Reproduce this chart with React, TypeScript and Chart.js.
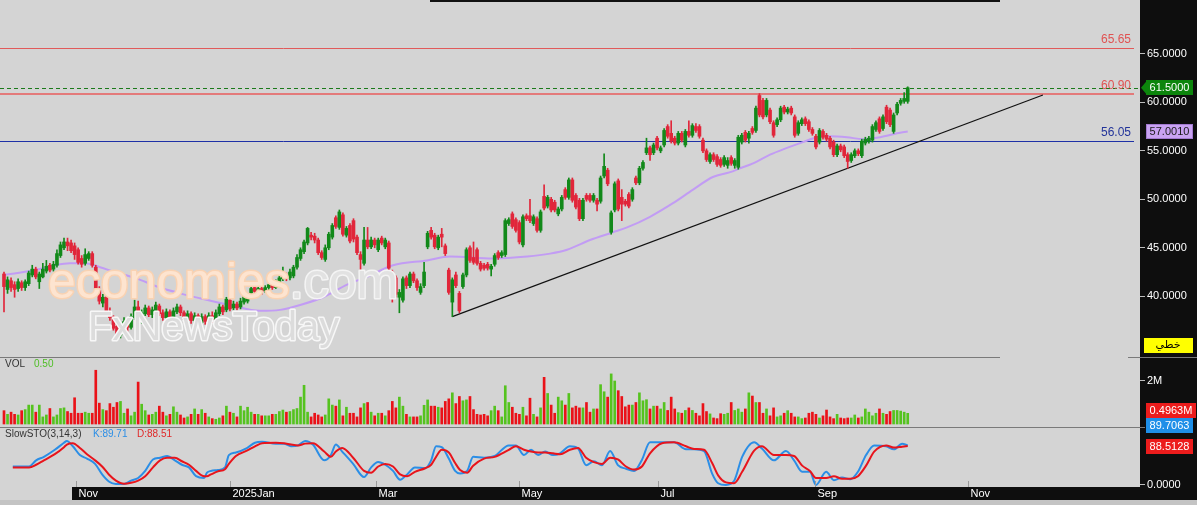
import React, { useEffect, useRef } from 'react';
import { Chart, registerables } from 'chart.js';

Chart.register(...registerables);

// ---------- DATA ----------
const opens = [
  42.3,40.7,41.6,41.2,40.8,41.4,40.9,41.3,42.2,42.8,
  41.5,42.0,42.6,43.2,42.8,43.2,44.2,45.0,45.6,45.5,
  45.2,44.8,43.9,43.4,43.9,44.4,43.0,40.6,39.3,39.9,
  38.4,37.8,36.9,36.0,36.8,37.4,36.8,37.8,38.9,37.4,
  38.2,38.8,38.1,38.5,39.0,38.3,37.8,38.4,37.9,38.4,
  38.9,38.3,37.6,38.2,37.5,38.0,37.3,37.9,37.4,38.0,
  37.6,38.2,38.9,38.6,39.6,38.8,39.2,38.9,39.4,39.5,
  40.0,40.9,40.5,40.8,40.6,40.9,41.2,40.9,41.5,41.8,
  42.2,41.9,42.1,43.0,43.9,44.6,45.5,46.3,46.2,45.8,
  44.5,43.8,45.0,46.1,48.1,47.1,48.4,46.3,47.3,47.8,
  46.1,44.3,43.4,45.8,45.1,45.8,44.8,46.0,45.1,45.5,
  42.5,41.9,39.9,39.6,41.9,41.1,42.3,41.6,40.4,41.1,
  45.1,46.8,46.3,45.0,46.4,45.2,42.7,39.4,42.2,40.3,
  41.0,42.2,45.0,44.0,44.8,43.4,43.2,43.3,42.8,43.3,
  44.5,44.2,44.3,47.5,48.5,47.9,47.6,45.3,48.3,48.3,
  47.5,48.0,46.8,50.3,49.3,50.0,49.7,48.5,49.0,51.0,
  50.2,52.0,50.4,49.9,48.0,50.4,50.4,49.9,49.9,49.8,
  52.4,53.0,46.6,48.9,51.9,50.2,49.8,50.5,50.0,52.2,
  51.7,53.2,54.8,55.3,54.8,56.3,55.0,55.6,57.5,56.8,
  56.3,55.8,56.8,55.6,57.0,56.6,57.5,57.5,56.1,55.0,
  53.9,54.6,54.4,54.1,53.6,53.5,54.3,53.5,53.3,55.9,
  56.9,56.3,57.3,57.1,60.7,60.2,58.7,59.2,57.9,57.7,
  58.2,59.5,59.0,59.4,58.5,56.8,57.8,58.3,58.0,57.2,
  56.5,55.9,57.0,56.6,56.3,55.9,54.6,55.5,55.4,54.6,
  54.0,54.5,55.0,54.5,55.8,56.0,56.1,57.2,58.3,57.3,
  59.5,59.2,57.0,58.9,59.9,60.1,60.1,
];
const highs = [
  42.5,42.0,41.9,41.5,41.8,41.6,41.7,42.6,43.2,43.0,
  42.5,43.4,43.7,43.4,43.6,44.8,45.6,46.0,46.0,45.8,
  45.5,45.0,44.2,44.9,44.6,44.6,43.2,41.0,40.2,40.0,
  38.8,38.0,37.2,37.2,37.8,37.6,38.2,39.6,39.5,38.6,
  39.1,39.0,38.9,39.4,39.2,38.6,38.7,38.6,38.8,39.2,
  39.1,38.5,38.5,38.4,38.3,38.2,38.2,38.1,38.3,38.4,
  38.6,39.2,39.1,39.9,39.8,39.5,39.4,39.8,40.2,40.3,
  41.0,41.1,41.0,41.0,41.1,41.4,41.4,41.7,42.2,43.0,
  42.4,42.8,43.2,44.3,45.0,45.8,47.1,46.6,46.5,46.0,
  44.7,45.3,46.6,47.5,48.3,48.9,48.6,47.2,47.5,48.0,
  46.3,44.6,47.1,47.1,46.1,46.0,46.0,46.2,46.0,45.7,
  42.7,42.1,40.7,42.0,42.1,42.5,42.5,41.8,41.3,43.5,
  46.7,47.1,46.5,46.3,47.0,45.4,42.9,41.9,42.5,40.5,
  42.4,45.0,45.2,45.6,45.0,43.6,43.4,43.5,43.3,44.4,
  44.7,44.7,48.0,48.1,48.7,48.1,47.8,48.4,48.5,50.0,
  48.4,48.2,48.9,51.5,50.4,50.2,49.9,49.2,50.4,51.2,
  52.2,52.2,50.6,50.1,50.1,50.6,50.6,50.6,50.1,52.4,
  54.7,53.2,48.8,51.8,52.1,51.0,50.0,50.7,51.2,52.4,
  53.4,54.0,56.3,55.5,55.8,56.5,55.5,57.3,57.7,58.1,
  56.5,57.0,57.0,57.2,58.1,57.8,57.8,57.7,56.3,55.2,
  54.8,54.8,54.6,54.3,54.5,54.3,54.5,54.2,56.6,56.8,
  57.1,57.0,57.5,59.6,60.9,60.4,60.4,59.4,58.1,58.4,
  59.6,59.7,59.5,59.6,58.7,58.1,58.4,58.5,58.2,57.4,
  56.7,57.3,57.2,56.8,56.5,56.1,55.7,55.7,55.6,54.8,
  54.8,55.2,55.2,56.2,56.4,56.5,57.7,58.1,58.5,58.7,
  59.7,59.4,58.9,60.0,60.4,61.0,61.6,
];
const lows = [
  38.4,40.3,40.5,39.9,40.5,40.6,40.6,41.1,42.0,41.8,
  40.8,41.9,42.4,42.5,42.6,43.0,44.0,44.8,44.7,44.5,
  43.8,43.3,43.0,43.2,43.7,43.0,40.2,39.2,38.9,38.0,
  37.5,36.5,35.5,35.7,36.5,36.4,36.6,37.6,37.0,37.2,
  38.0,37.9,37.8,38.3,38.0,37.5,37.6,37.6,37.7,38.2,
  38.0,37.3,37.4,37.2,37.2,36.9,37.0,37.1,37.2,37.3,
  37.4,38.0,38.1,38.4,38.5,38.6,38.6,38.7,39.2,39.3,
  39.8,40.3,40.3,40.2,40.4,40.6,40.7,40.8,41.3,41.6,
  41.6,41.7,41.9,42.8,43.7,44.4,45.3,45.8,45.5,44.3,
  43.8,43.6,44.8,45.9,47.0,46.9,46.2,46.1,45.5,45.6,
  44.3,42.7,43.2,44.9,44.9,45.0,44.6,45.3,44.9,42.7,
  39.4,39.9,38.3,39.4,40.8,40.9,41.4,40.6,40.2,40.9,
  44.9,45.9,44.9,44.8,45.1,44.2,40.2,37.9,40.9,38.3,
  40.8,42.0,43.5,43.3,43.2,42.6,42.7,42.7,42.1,43.1,
  43.8,44.0,44.1,47.3,47.0,46.6,45.4,45.1,47.8,47.6,
  47.3,46.6,46.6,48.9,49.1,48.7,48.7,48.3,48.8,50.0,
  50.0,49.7,49.0,47.8,47.8,49.8,49.7,49.7,48.8,49.6,
  52.2,51.4,46.4,48.7,48.8,47.8,49.3,49.1,49.8,51.5,
  51.5,53.0,54.6,54.0,54.6,55.1,54.8,55.4,56.3,55.8,
  55.6,55.6,55.9,55.4,56.4,56.4,56.9,56.3,54.8,53.9,
  53.7,53.9,53.4,53.3,53.4,53.2,53.5,53.2,53.1,55.7,
  55.9,55.8,56.7,56.9,58.5,58.3,58.5,57.8,56.4,57.5,
  58.0,58.8,58.8,58.7,56.4,56.6,57.6,57.6,57.0,56.6,
  55.2,55.7,56.2,56.0,55.2,54.4,54.4,54.9,54.3,53.2,
  53.8,54.3,54.5,54.3,55.6,55.8,55.9,57.0,56.8,57.1,
  57.8,57.5,56.8,58.7,59.7,59.9,59.9,
];
const closes = [
  41.0,41.7,40.9,40.7,41.5,40.9,41.5,42.4,42.8,42.0,
  42.3,42.8,43.1,42.7,43.3,44.4,45.3,45.6,45.2,44.7,
  44.3,43.5,43.3,44.3,44.4,43.2,40.5,39.5,39.9,38.3,
  37.8,36.7,36.0,36.9,37.4,36.8,37.9,38.9,37.3,38.3,
  38.8,38.1,38.6,39.1,38.2,37.8,38.4,37.9,38.5,38.9,
  38.3,37.6,38.2,37.5,38.0,37.2,37.9,37.4,38.0,37.6,
  38.3,38.9,38.4,39.7,38.7,39.2,38.8,39.5,40.0,40.0,
  40.8,40.5,40.8,40.5,40.9,41.2,40.9,41.5,41.9,42.2,
  41.9,42.5,43.0,44.0,44.8,45.6,47.0,46.1,45.8,44.5,
  44.0,45.0,46.4,47.3,47.2,48.7,46.4,47.0,45.7,45.9,
  44.5,43.8,45.8,45.1,45.8,45.3,45.8,45.5,45.8,42.9,
  39.9,40.2,40.4,41.8,41.1,42.3,41.6,40.9,41.0,42.5,
  46.5,46.1,45.1,46.1,46.1,44.4,40.4,41.7,41.1,38.5,
  42.2,44.8,43.7,43.5,43.4,42.8,42.9,42.9,43.1,44.2,
  44.0,44.5,47.8,47.9,47.2,46.8,45.6,48.2,48.0,47.8,
  48.2,46.8,48.7,49.1,50.2,48.9,48.9,49.0,50.2,50.2,
  52.0,49.9,49.2,48.0,49.9,50.0,49.9,50.4,49.5,52.2,
  53.4,51.6,48.6,51.6,49.0,49.5,49.5,49.3,51.0,51.7,
  53.2,53.8,55.3,54.6,55.6,55.3,55.3,57.1,56.5,56.0,
  55.8,56.8,56.1,57.0,56.6,57.6,57.1,56.5,55.0,54.1,
  54.6,54.1,53.6,53.5,54.3,54.0,53.7,54.0,56.4,56.6,
  56.1,56.8,56.9,59.4,58.7,58.5,60.2,58.0,56.6,58.2,
  59.4,59.0,59.3,58.9,56.6,57.9,58.2,57.8,57.2,56.8,
  55.4,57.1,56.4,56.2,55.4,54.6,55.5,55.1,54.5,53.9,
  54.6,55.0,54.7,56.0,56.2,56.3,57.5,57.9,57.0,58.5,
  58.0,57.7,58.7,59.8,60.2,60.4,61.5,
];
// volume in millions
const volumes = [
  0.62,0.45,0.55,0.45,0.42,0.62,0.67,0.88,0.88,0.55,
  0.88,0.33,0.42,0.72,0.33,0.42,0.72,0.75,0.58,0.5,
  1.22,0.5,0.5,0.55,0.5,0.5,2.5,0.97,0.67,0.62,
  0.95,0.78,1.0,1.05,0.5,0.7,0.38,0.55,1.95,0.92,
  0.62,0.42,0.45,0.55,0.83,0.55,0.38,0.45,0.8,0.55,
  0.42,0.28,0.33,0.45,0.7,0.45,0.67,0.5,0.33,0.25,
  0.22,0.28,0.38,0.83,0.55,0.5,0.33,0.83,0.62,0.78,
  0.55,0.45,0.45,0.38,0.38,0.38,0.45,0.45,0.58,0.65,
  0.55,0.58,0.67,0.72,1.25,1.8,0.55,0.33,0.5,0.42,
  0.33,0.42,1.17,0.88,0.83,1.12,0.38,0.78,0.5,0.5,
  0.33,0.75,0.95,1.0,0.55,0.38,0.5,0.5,0.38,0.62,
  1.05,0.75,1.25,0.83,0.45,0.33,0.33,0.33,0.38,0.87,
  1.12,0.83,0.83,0.78,0.75,1.05,1.17,1.45,0.95,1.28,
  1.08,1.12,1.28,0.67,0.45,0.42,0.45,0.38,0.62,0.83,
  0.62,0.33,1.78,1.0,0.78,0.5,0.45,0.78,0.38,1.2,
  0.45,0.33,0.75,2.17,1.42,0.88,0.5,1.25,1.08,0.88,
  1.42,0.75,0.83,0.75,0.75,1.0,0.55,0.7,0.7,1.83,
  1.5,1.25,2.33,2.0,1.55,1.28,0.8,0.88,0.88,1.0,
  1.45,1.08,1.13,0.7,0.83,0.83,0.7,1.0,0.63,1.25,
  0.7,0.53,0.5,0.63,0.75,0.63,0.5,0.38,0.95,0.58,
  0.47,0.28,0.25,0.48,0.45,0.5,1.0,0.63,0.7,0.55,
  0.7,1.45,1.3,1.0,1.0,0.5,0.7,0.38,0.75,0.33,
  0.38,0.5,0.62,0.5,0.33,0.33,0.25,0.28,0.5,0.55,
  0.45,0.28,0.38,0.65,0.33,0.25,0.45,0.28,0.25,0.28,
  0.28,0.42,0.28,0.33,0.7,0.55,0.38,0.5,0.7,0.5,
  0.45,0.58,0.63,0.63,0.6,0.55,0.4963,
];
// moving average (purple), read at bar positions
const maIdx = [0,8.8,14.4,18.7,22.9,27.2,31.4,37.1,44.2,49.9,55.5,64,72.5,78.2,83.9,90.4,97.2,102.8,110.2,119.8,126.3,138.5,148.2,154.7,159.5,166,172.5,176.5,183,189.5,195.2,200.8,205.7,208.5,212.2,217,221.8,226.3,230.3,234,238.8,243.3,248.2,253,256];
const maValues = [42.2,42.7,43.2,43.4,43.4,43.0,42.5,41.9,40.9,40.3,39.8,39.1,38.5,38.6,39.1,39.9,41.2,42.0,43.2,43.7,44.1,43.9,44.1,44.4,44.8,45.8,46.6,47.1,48.2,49.6,51.0,52.3,52.8,53.2,53.7,54.6,55.3,55.9,56.4,56.5,56.4,56.2,56.4,56.8,57.001];
// Slow stochastic (3,14,3)
const stochIdx = [2.5,7.1,9.1,11.3,14.4,17,17.8,19.5,21.5,23.5,25.8,27.8,29.7,31.7,34,36,38,40,42.2,44.2,46.2,48.4,50.4,52.4,54.4,56.7,57.5,58.6,60.6,62.6,63.7,65.7,68.8,71.1,73.1,77,79.3,81.3,83.3,85.3,87.5,90.7,92.6,94,95.8,98.9,102,104,106,108,110.2,112.2,114.2,116.4,119.3,121,122.4,124,126,127.8,129.2,131.2,132.9,136,139,143,145,147.3,149.3,151.3,153.3,155.5,157.5,160.3,162.6,164.9,167.1,169.4,171.7,173.9,176.2,178.5,180.7,183,186.4,189.8,193.2,195.5,198.3,200.6,202.3,204.5,206.8,209.1,212.5,214.7,218.1,221.5,223.8,226.1,228.3,230,232.9,235.1,237.4,239.7,241.9,244.2,246.5,249.9,252.1,254.4,256];
const kValues = [42,42,56,64,80,96,100,88,68,60,48,24,8,2,2,10,16,32,58,62,66,56,46,40,20,16,28,32,34,40,68,74,84,96,98,94,94,88,90,100,92,56,68,92,76,48,18,40,52,46,32,12,24,40,38,56,88,86,60,32,26,32,64,62,66,90,90,68,80,68,76,68,72,88,83,45,54,45,77,45,37,32,57,97,97,97,81,81,77,26,4,0,9,64,97,83,56,77,56,30,30,0,30,11,17,13,30,68,90,88,81,94,89.71];
const dValues = [40,40,46,56,70,86,92,95,84,70,56,42,24,10,3,5,10,20,40,56,62,62,54,46,32,20,20,24,31,36,48,66,78,88,95,96,95,92,90,94,95,76,64,76,84,62,32,28,42,48,42,24,20,30,38,46,64,80,74,50,34,28,44,60,64,80,88,80,76,74,74,72,70,80,84,62,52,48,62,58,42,35,42,72,95,97,88,82,80,50,22,6,4,30,78,88,68,68,66,44,32,16,16,20,14,14,20,44,76,90,85,87,88.51];
// trend line (bar index, price)
const trendIdx = [127, 294.3];
const trendValues = [37.9, 60.75];
// horizontal levels
const levelValues = [65.65, 60.9, 56.05];
const levelLabels = ['65.65', '60.90', '56.05'];
const lastPrice = 61.5;
const lastPriceLabel = '61.5000';
const maLastLabel = '57.0010';
const lastVolume = 0.4963;
const lastVolumeLabel = '0.4963M';
const kLast = 89.7063;
const dLast = 88.5128;
const kLastLabel = '89.7063';
const dLastLabel = '88.5128';
const kLegend = 'K:89.71';
const dLegend = 'D:88.51';
const volLegend = '0.50';
// x axis months (bar index where month begins)
const monthTickIdx = [20.4, 64, 105.4, 145.9, 185.3, 229.7, 273.1];
const monthLabels = ['Nov', '2025Jan', 'Mar', 'May', 'Jul', 'Sep', 'Nov'];
const priceTicks = [40, 45, 50, 55, 60, 65];
const volTicks = [2];
const stochTicks = [0];

// ---------- STYLE ----------
const UP = '#12891a';
const DOWN = '#e1263a';
const VOL_UP = '#55c31f';
const VOL_DOWN = '#ea1218';
const levelColors = ['#e15a5a', '#e37a7a', '#1e30a6'];
const levelWidths = [1, 2, 1];
const levelTextColors = ['#e05252', '#e05252', '#23349a'];
const AXIS_FONT = '11px "Liberation Sans", Arial, sans-serif';

const isUp = (i: number) => closes[i] >= opens[i];

const overlayPlugin = {
  id: 'overlay',
  beforeDraw(chart: any) {
    const { ctx } = chart;
    ctx.save();
    ctx.fillStyle = '#d4d4d4';
    ctx.fillRect(0, 0, 1197, 505);
    ctx.fillStyle = '#0e0e0e';
    ctx.fillRect(1140, 0, 57, 500);
    ctx.fillRect(72, 487, 1125, 13);
    ctx.fillStyle = '#c4c4c4';
    ctx.fillRect(0, 500, 1197, 5);
    ctx.restore();
  },
  beforeDatasetsDraw(chart: any) {
    const { ctx, chartArea } = chart;
    const ys = chart.scales.y;
    const right = chartArea.right - 6;
    ctx.save();
    levelValues.forEach((v, i) => {
      const y = Math.round(ys.getPixelForValue(v)) + (levelWidths[i] % 2 ? 0.5 : 0);
      ctx.strokeStyle = levelColors[i];
      ctx.lineWidth = levelWidths[i];
      ctx.beginPath();
      ctx.moveTo(chartArea.left, y);
      ctx.lineTo(right, y);
      ctx.stroke();
    });
    const ly = Math.round(ys.getPixelForValue(lastPrice)) + 0.5;
    ctx.strokeStyle = '#1b7a1b';
    ctx.lineWidth = 1;
    ctx.setLineDash([4, 3]);
    ctx.beginPath();
    ctx.moveTo(chartArea.left, ly);
    ctx.lineTo(chartArea.right, ly);
    ctx.stroke();
    ctx.setLineDash([]);
    ctx.restore();
  },
  afterDatasetsDraw(chart: any) {
    const { ctx } = chart;
    ctx.save();
    // watermark
    ctx.font = '50px "Liberation Sans", Arial, sans-serif';
    ctx.textBaseline = 'alphabetic';
    ctx.lineJoin = 'round';
    ctx.lineWidth = 3;
    ctx.strokeStyle = '#f9d2b2';
    ctx.fillStyle = '#fde4d0';
    ctx.strokeText('economies', 48, 298);
    ctx.fillText('economies', 48, 298);
    const w1 = ctx.measureText('economies').width;
    ctx.strokeStyle = '#f4f4f4';
    ctx.fillStyle = '#e2e2e2';
    ctx.strokeText('.com', 48 + w1, 298);
    ctx.fillText('.com', 48 + w1, 298);
    ctx.font = '40px "Liberation Sans", Arial, sans-serif';
    ctx.lineWidth = 3;
    ctx.strokeStyle = '#f7f7f7';
    ctx.fillStyle = '#dcdcdc';
    ctx.strokeText('FxNewsToday', 88, 340);
    ctx.fillText('FxNewsToday', 88, 340);
    ctx.restore();
  },
  afterDraw(chart: any) {
    const { ctx, chartArea } = chart;
    const ys = chart.scales.y;
    const yv = chart.scales.yVol;
    const yst = chart.scales.yStoch;
    const xs = chart.scales.x;
    ctx.save();
    // top edge line
    ctx.fillStyle = '#111';
    ctx.fillRect(430, 0, 570, 2);
    // separators
    ctx.strokeStyle = '#7a7a7a';
    ctx.lineWidth = 1;
    ctx.beginPath();
    ctx.moveTo(0, Math.round(ys.bottom) + 0.5);
    ctx.lineTo(1000, Math.round(ys.bottom) + 0.5);
    ctx.moveTo(1128, Math.round(ys.bottom) + 0.5);
    ctx.lineTo(1197, Math.round(ys.bottom) + 0.5);
    ctx.moveTo(0, Math.round(yv.bottom) + 0.5);
    ctx.lineTo(1145, Math.round(yv.bottom) + 0.5);
    ctx.stroke();
    // level labels
    ctx.font = '12px "Liberation Sans", Arial, sans-serif';
    ctx.textAlign = 'right';
    ctx.textBaseline = 'bottom';
    levelValues.forEach((v, i) => {
      ctx.fillStyle = levelTextColors[i];
      ctx.fillText(levelLabels[i], chartArea.right - 9, ys.getPixelForValue(v) - 2);
    });
    // panel legends
    ctx.textAlign = 'left';
    ctx.textBaseline = 'middle';
    ctx.font = '10px "Liberation Sans", Arial, sans-serif';
    const vy = yv.top + 7;
    ctx.fillStyle = '#333';
    ctx.fillText('VOL', 5, vy);
    ctx.fillStyle = '#4fbf26';
    ctx.fillText(volLegend, 34, vy);
    const sy = yst.top + 7;
    ctx.fillStyle = '#333';
    ctx.fillText('SlowSTO(3,14,3)', 5, sy);
    ctx.fillStyle = '#2b8ee6';
    ctx.fillText(kLegend, 93, sy);
    ctx.fillStyle = '#e02828';
    ctx.fillText(dLegend, 137, sy);
    // month ticks & labels
    ctx.strokeStyle = '#9a9a9a';
    ctx.font = AXIS_FONT;
    monthTickIdx.forEach((m, i) => {
      const x = Math.round(xs.getPixelForValue(m)) + 0.5;
      ctx.beginPath();
      ctx.moveTo(x, chartArea.bottom - 6);
      ctx.lineTo(x, chartArea.bottom);
      ctx.stroke();
      ctx.fillStyle = '#ffffff';
      ctx.fillText(monthLabels[i], x + 2, chartArea.bottom + 7);
    });
    // right-axis tags
    const tag = (y: number, text: string, bg: string, fg: string, w: number, arrow = false, border = '') => {
      const x = 1146, h = 15;
      ctx.fillStyle = bg;
      ctx.fillRect(x, Math.round(y - h / 2), w, h);
      if (border) {
        ctx.strokeStyle = border;
        ctx.lineWidth = 1;
        ctx.strokeRect(x + 0.5, Math.round(y - h / 2) + 0.5, w - 1, h - 1);
      }
      if (arrow) {
        ctx.beginPath();
        ctx.moveTo(x - 5, y);
        ctx.lineTo(x, y - 6);
        ctx.lineTo(x, y + 6);
        ctx.closePath();
        ctx.fill();
      }
      ctx.fillStyle = fg;
      ctx.textAlign = 'center';
      ctx.textBaseline = 'middle';
      ctx.font = AXIS_FONT;
      ctx.fillText(text, x + w / 2, y + 0.5);
    };
    tag(ys.getPixelForValue(lastPrice), lastPriceLabel, '#0c850c', '#ffffff', 47, true);
    tag(ys.getPixelForValue(maValues[maValues.length - 1]), maLastLabel, '#c9a3f2', '#1a1a1a', 47, false, '#a27ad0');
    // yellow line-type tag
    ctx.fillStyle = '#ffff00';
    ctx.fillRect(1144, ys.bottom - 19, 49, 15);
    ctx.fillStyle = '#000';
    ctx.textAlign = 'center';
    ctx.font = '11px "DejaVu Sans", sans-serif';
    ctx.fillText('خطي', 1168, ys.bottom - 11.5);
    const dY = yst.getPixelForValue(dLast);
    const kY = Math.min(yst.getPixelForValue(kLast), dY - 21);
    const vY = Math.min(yv.getPixelForValue(lastVolume), kY - 15);
    tag(vY, lastVolumeLabel, '#ec1c1c', '#ffffff', 50);
    tag(kY, kLastLabel, '#1e8fe8', '#ffffff', 47);
    tag(dY, dLastLabel, '#ec1c1c', '#ffffff', 47);
    ctx.restore();
  },
};

const rightAxis = (extra: any) => ({
  type: 'linear',
  position: 'right',
  stack: 'panels',
  offset: false,
  border: { display: false },
  grid: { drawOnChartArea: false, drawTicks: true, tickLength: 5, color: '#bdbdbd' },
  afterFit: (s: any) => {
    s.width = 57;
    s.paddingTop = 0;
    s.paddingBottom = 0;
  },
  ...extra,
});

const tickFont = { family: '"Liberation Sans", Arial, sans-serif', size: 11 };

export default function App() {
  const ref = useRef<HTMLCanvasElement>(null);
  useEffect(() => {
    document.body.style.margin = '0';
    const candleIdx = opens.map((_, i) => i);
    const chart = new Chart(ref.current as HTMLCanvasElement, {
      type: 'bar',
      data: {
        datasets: [
          {
            type: 'bar',
            label: 'body',
            data: candleIdx.map((i) => ({ x: i, y: [opens[i], closes[i]] })) as any,
            yAxisID: 'y',
            barThickness: 3,
            minBarLength: 1,
            grouped: false,
            backgroundColor: (c: any) => (isUp(c.dataIndex) ? UP : DOWN),
            order: 1,
          },
          {
            type: 'bar',
            label: 'wick',
            data: candleIdx.map((i) => ({ x: i, y: [lows[i], highs[i]] })) as any,
            yAxisID: 'y',
            barThickness: 1,
            grouped: false,
            backgroundColor: (c: any) => (isUp(c.dataIndex) ? UP : DOWN),
            order: 2,
          },
          {
            type: 'line',
            label: 'MA',
            data: maIdx.map((x, j) => ({ x, y: maValues[j] })),
            yAxisID: 'y',
            borderColor: '#c29cf4',
            borderWidth: 2,
            pointRadius: 0,
            cubicInterpolationMode: 'monotone',
            order: 3,
          },
          {
            type: 'line',
            label: 'trend',
            data: trendIdx.map((x, j) => ({ x, y: trendValues[j] })),
            yAxisID: 'y',
            borderColor: '#111111',
            borderWidth: 1.2,
            pointRadius: 0,
            order: 4,
          },
          {
            type: 'bar',
            label: 'VOL',
            data: candleIdx.map((i) => ({ x: i, y: volumes[i] })),
            yAxisID: 'yVol',
            barThickness: 2,
            grouped: false,
            backgroundColor: (c: any) => (isUp(c.dataIndex) ? VOL_UP : VOL_DOWN),
            order: 1,
          },
          {
            type: 'line',
            label: 'K',
            data: stochIdx.map((x, j) => ({ x, y: kValues[j] })),
            yAxisID: 'yStoch',
            borderColor: '#2b8ee6',
            borderWidth: 2,
            pointRadius: 0,
            cubicInterpolationMode: 'monotone',
            order: 6,
          },
          {
            type: 'line',
            label: 'D',
            data: stochIdx.map((x, j) => ({ x, y: dValues[j] })),
            yAxisID: 'yStoch',
            borderColor: '#e8141c',
            borderWidth: 2,
            pointRadius: 0,
            cubicInterpolationMode: 'monotone',
            order: 5,
          },
        ] as any,
      },
      options: {
        responsive: false,
        animation: false,
        devicePixelRatio: 1,
        events: [],
        layout: { padding: { left: 0, right: 0, top: 0, bottom: 18 } },
        plugins: { legend: { display: false }, tooltip: { enabled: false } },
        scales: {
          x: {
            type: 'linear',
            min: -1.133,
            max: 321.8,
            display: false,
            offset: false,
            grid: { display: false },
          },
          y: rightAxis({
            weight: 1,
            stackWeight: 357,
            min: 33.74,
            max: 70.55,
            afterBuildTicks: (s: any) => {
              s.ticks = priceTicks.map((v) => ({ value: v }));
            },
            ticks: {
              color: '#ffffff',
              font: tickFont,
              padding: 2,
              autoSkip: false,
              callback: (v: any) => Number(v).toFixed(4),
            },
          }),
          yVol: rightAxis({
            weight: 2,
            stackWeight: 70,
            min: -0.1395,
            max: 3.116,
            afterBuildTicks: (s: any) => {
              s.ticks = volTicks.map((v) => ({ value: v }));
            },
            ticks: {
              color: '#ffffff',
              font: tickFont,
              padding: 2,
              autoSkip: false,
              callback: (v: any) => `${v}M`,
            },
          }),
          yStoch: rightAxis({
            weight: 3,
            stackWeight: 60,
            min: -4.55,
            max: 131.8,
            afterBuildTicks: (s: any) => {
              s.ticks = stochTicks.map((v) => ({ value: v }));
            },
            ticks: {
              color: '#ffffff',
              font: tickFont,
              padding: 2,
              autoSkip: false,
              callback: (v: any) => Number(v).toFixed(4),
            },
          }),
        },
      } as any,
      plugins: [overlayPlugin],
    });
    return () => chart.destroy();
  }, []);
  return (
    <div style={{ position: 'fixed', left: 0, top: 0, width: 1197, height: 505, background: '#d4d4d4' }}>
      <canvas ref={ref} width={1197} height={505} style={{ display: 'block', width: 1197, height: 505 }} />
    </div>
  );
}
